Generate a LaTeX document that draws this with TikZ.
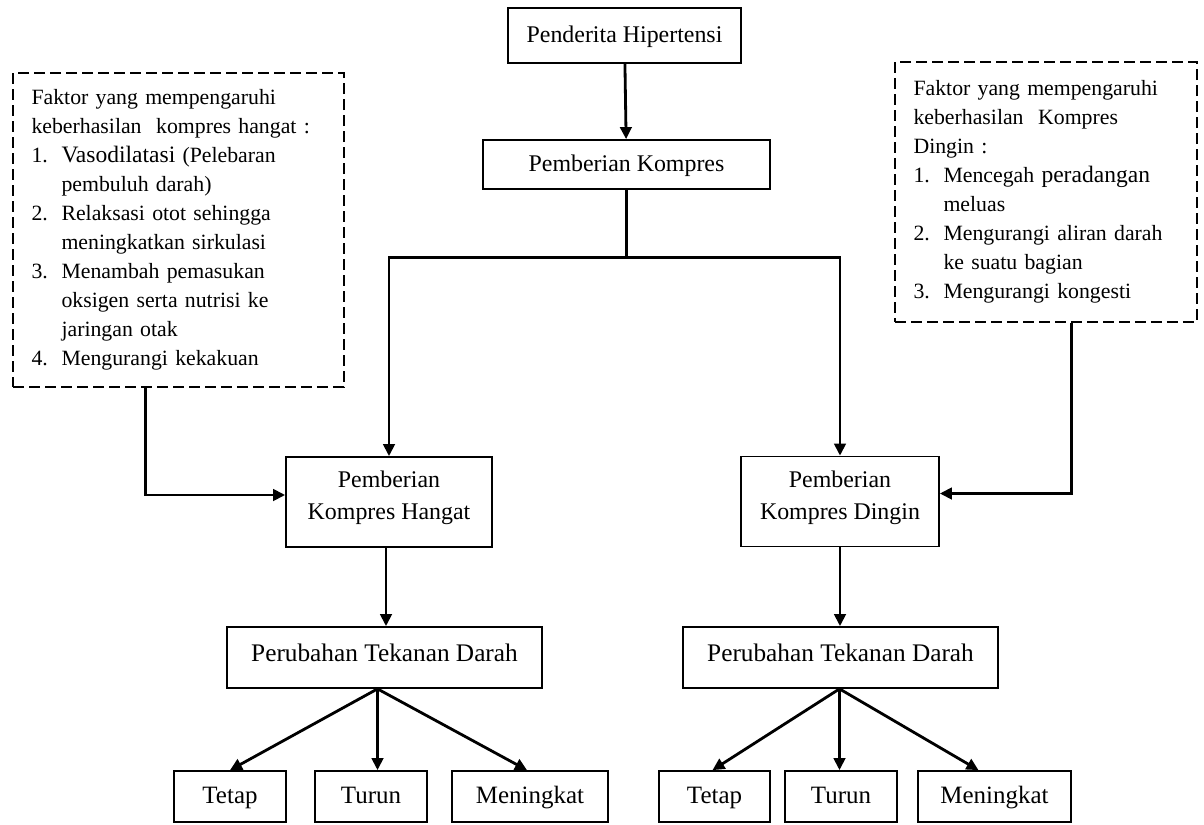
\documentclass[tikz,border=0pt]{standalone}
\usepackage{fontspec}
\setmainfont{Liberation Serif}
\usetikzlibrary{arrows.meta, positioning, calc}

\newcommand{\nomor}[1]{\makebox[0.6cm][l]{#1}}
\newcommand{\lanjut}{\hspace*{0.6cm}}

\begin{document}
\begin{tikzpicture}[
    x=0.02cm, y=-0.02cm,
    kotak/.style={rectangle, draw, line width=1pt, align=center, inner sep=2pt, font=\fontsize{13.6}{18}\selectfont},
    satu/.style={kotak, text height=0.95em, text depth=0.1em},
    daun/.style={satu, minimum height=1.02cm, font=\fontsize{14.2}{18}\selectfont},
    putus/.style={rectangle, draw, line width=1.6pt, dash pattern=on 0.22cm off 0.1cm, align=left, inner xsep=0.37cm, font=\fontsize{12.4}{16.5}\selectfont},
    garis/.style={line width=1.6pt},
    panah/.style={line width=1.6pt, -{Triangle[length=0.24cm, width=0.23cm]}}
]
\useasboundingbox (0,0) rectangle (1204,825);

\node[satu, minimum width=4.66cm, minimum height=1.1cm] (penderita) at (624.5,35.5) {Penderita Hipertensi};
\node[satu, minimum width=5.74cm, minimum height=0.98cm] (kompres) at (626.5,164.5) {Pemberian Kompres};
\node[kotak, minimum width=4.12cm, minimum height=1.8cm] (hangat) at (389,502) {Pemberian\\Kompres Hangat\par\vspace*{0.16cm}};
\node[kotak, minimum width=3.96cm, minimum height=1.8cm] (dingin) at (840,501.5) {Pemberian\\Kompres Dingin\par\vspace*{0.16cm}};
\node[kotak, text height=0.72em, text depth=0.22em, minimum width=6.3cm, minimum height=1.22cm, font=\fontsize{14.4}{18}\selectfont] (ptdL) at (384.5,657.5) {Perubahan Tekanan Darah};
\node[kotak, text height=0.72em, text depth=0.22em, minimum width=6.3cm, minimum height=1.22cm, font=\fontsize{14.4}{18}\selectfont] (ptdR) at (840.5,657.5) {Perubahan Tekanan Darah};

\node[daun, minimum width=2.24cm] (tetapL) at (230,796.5) {Tetap};
\node[daun, minimum width=2.24cm] (turunL) at (371,796.5) {Turun};
\node[daun, minimum width=3.12cm] (meningL) at (530,796.5) {Meningkat};
\node[daun, minimum width=2.22cm] (tetapR) at (714.5,796.5) {Tetap};
\node[daun, minimum width=2.24cm] (turunR) at (841,796.5) {Turun};
\node[daun, minimum width=3.06cm] (meningR) at (994.5,796.5) {Meningkat};

\node[putus, text width=5.88cm, minimum height=6.28cm] (faktorL) at (178.5,230) {Faktor yang mempengaruhi\\
keberhasilan\ \ kompres hangat :\\
\nomor{1.}{\fontsize{13.4}{16.5}\selectfont Vasodilatasi} (Pelebaran\\
\lanjut pembuluh darah)\\
\nomor{2.}Relaksasi otot sehingga\\
\lanjut meningkatkan sirkulasi\\
\nomor{3.}Menambah pemasukan\\
\lanjut oksigen serta nutrisi ke\\
\lanjut jaringan otak\\
\nomor{4.}Mengurangi kekakuan\par\vspace*{0.48cm}};
\node[putus, text width=5.3cm, minimum height=5.2cm] (faktorR) at (1046,192) {Faktor yang mempengaruhi\\
keberhasilan\ \ Kompres\\
Dingin :\\
\nomor{1.}Mencegah {\fontsize{13.4}{16.5}\selectfont peradangan}\\
\lanjut meluas\\
\nomor{2.}Mengurangi aliran darah\\
\lanjut ke suatu bagian\\
\nomor{3.}Mengurangi kongesti\par\vspace*{0.32cm}};

\coordinate (pusatL) at ($(ptdL.south)+(-7,0)$);
\coordinate (pusatR) at ($(ptdR.south)+(-1,0)$);

\draw[panah] (penderita) -- (kompres);
\draw[garis] (kompres.south) -- ++(0,68) coordinate (cabang);
\draw[panah] (cabang) -| (hangat.north);
\draw[panah] (cabang) -| (dingin.north);
\draw[panah] ($(hangat.south)+(-3,0)$) -- ($(hangat.south |- ptdL.north)+(-3,0)$);
\draw[panah] (dingin.south) -- (dingin.south |- ptdR.north);
\draw[panah] (pusatL) -- (tetapL.north);
\draw[panah] (pusatL) -- (pusatL |- turunL.north);
\draw[panah] (pusatL) -- ($(meningL.north)+(-3,0)$);
\draw[panah] (pusatR) -- ($(tetapR.north)+(-2,0)$);
\draw[panah] (pusatR) -- (pusatR |- turunR.north);
\draw[panah] (pusatR) -- ($(meningR.north)+(-16,0)$);
\draw[panah] ($(faktorL.south west)!0.4!(faktorL.south east)$) |- ($(hangat.west)+(0,-7)$);
\draw[panah] ($(faktorR.south west)!0.583!(faktorR.south east)$) |- ($(dingin.east)+(0,-8)$);
\end{tikzpicture}
\end{document}
